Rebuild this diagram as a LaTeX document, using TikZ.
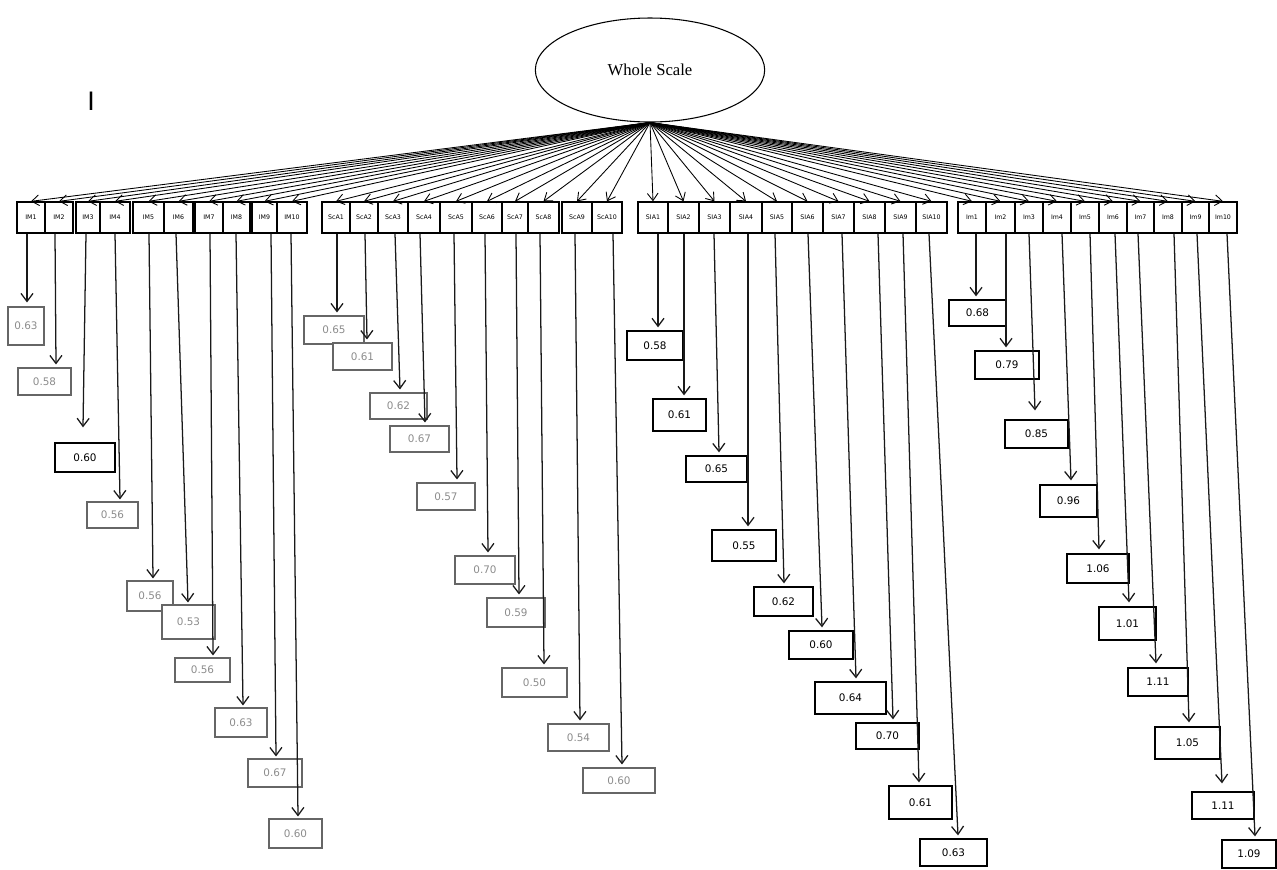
\documentclass[tikz,border=0pt]{standalone}
\usepackage{fontspec}
\setmainfont{Liberation Serif}
\newfontfamily\vfont{DejaVu Sans}
\usetikzlibrary{arrows.meta,calc,shapes.geometric}
\tikzset{
  every picture/.style={x=0.75pt,y=-0.75pt},
  itembox/.style={draw=black,line width=1pt,fill=white,inner sep=0pt,minimum height=23.25pt,
    font=\vfont\fontsize{4.7}{5}\selectfont},
  valfade/.style={draw=black!60,line width=0.8pt,fill=white,inner sep=0pt,text=black!45,
    font=\vfont\fontsize{7.8}{8}\selectfont},
  valdark/.style={draw=black,line width=1pt,fill=white,inner sep=0pt,text=black,
    font=\vfont\fontsize{7.8}{8}\selectfont},
  arr/.style={draw=black!90,line width=0.95pt,-{Straight Barb[length=6pt,width=9pt,line width=0.95pt]}},
  fan/.style={draw=black,line width=0.65pt,-{Straight Barb[length=5.5pt,width=8pt,line width=0.65pt]}},
  latent/.style={ellipse,draw=black,line width=0.8pt,fill=white,inner sep=0pt,
    minimum width=172pt,minimum height=78pt,font=\fontsize{12.5}{14}\selectfont}
}
\begin{document}
\begin{tikzpicture}
\useasboundingbox[fill=white] (0,0) rectangle (1277,869);
\node[latent] (WS) at (650,70) {Whole Scale};
\node[font=\vfont\fontsize{19}{19}\selectfont] (Imark) at (91,101) {I};
\foreach \n/\lab/\L/\R/\s/\tx/\ty/\vl/\vr/\vt/\vb/\v/\st in {
 a1/IM1/17/45/27/27/303/8/44/307/345/0.63/valfade,
 a2/IM2/45/73/55/56/365/18/71/368/395/0.58/valfade,
 a3/IM3/76/100/86/83/428/55/115/443/472/0.60/valdark,
 a4/IM4/100/130/115/120/500/87/138/502/528/0.56/valfade,
 a5/IM5/133/164/149/153/579/127/173/581/611/0.56/valfade,
 a6/IM6/164/193/176/188/603/162/215/605/639/0.53/valfade,
 a7/IM7/195/223/210/213/656/175/230/658/682/0.56/valfade,
 a8/IM8/223/250/236/243/706/215/267/708/737/0.63/valfade,
 a9/IM9/252/277/271/276/757/248/302/759/787/0.67/valfade,
 a10/IM10/277/307/291/298/817/269/322/819/848/0.60/valfade,
 b1/ScA1/322/350/337/337/313/304/364/316/344/0.65/valfade,
 b2/ScA2/350/378/365/367/340/333/392/343/370/0.61/valfade,
 b3/ScA3/378/408/395/400/390/370/427/393/419/0.62/valfade,
 b4/ScA4/408/440/420/425/423/390/449/426/452/0.67/valfade,
 b5/ScA5/440/472/454/457/480/417/475/483/510/0.57/valfade,
 b6/ScA6/472/502/485/488/553/455/515/556/584/0.70/valfade,
 b7/ScA7/502/528/516/519/595/487/545/598/627/0.59/valfade,
 b8/ScA8/528/559/540/544/665/502/567/668/697/0.50/valfade,
 b9/ScA9/562/592/575/580/721/548/609/724/751/0.54/valfade,
 b10/ScA10/592/622/613/622/765/583/655/768/793/0.60/valfade,
 c1/SIA1/638/668/658/658/328/627/683/331/360/0.58/valdark,
 c2/SIA2/668/699/684/684/396/653/706/399/431/0.61/valdark,
 c3/SIA3/699/730/714/719/453/686/747/456/482/0.65/valdark,
 c4/SIA4/730/762/748/748/527/712/776/530/561/0.55/valdark,
 c5/SIA5/762/792/775/784/584/754/813/587/616/0.62/valdark,
 c6/SIA6/792/823/808/822/628/789/853/631/659/0.60/valdark,
 c7/SIA7/823/854/842/856/679/815/886/682/714/0.64/valdark,
 c8/SIA8/854/885/878/893/720/856/919/723/749/0.70/valdark,
 c9/SIA9/885/916/903/919/783/889/952/786/819/0.61/valdark,
 c10/SIA10/916/947/929/958/836/920/987/839/866/0.63/valdark,
 d1/Im1/958/986/976/976/297/949/1006/300/326/0.68/valdark,
 d2/Im2/986/1015/1006/1006/348/975/1039/351/379/0.79/valdark,
 d3/Im3/1015/1043/1029/1035/411/1005/1068/420/448/0.85/valdark,
 d4/Im4/1043/1071/1062/1071/481/1040/1097/485/517/0.96/valdark,
 d5/Im5/1071/1099/1090/1099/550/1067/1129/554/583/1.06/valdark,
 d6/Im6/1099/1127/1115/1129/603/1099/1156/607/640/1.01/valdark,
 d7/Im7/1127/1154/1138/1156/664/1128/1188/668/696/1.11/valdark,
 d8/Im8/1154/1182/1174/1189/723/1155/1220/727/759/1.05/valdark,
 d9/Im9/1182/1209/1197/1222/784/1192/1254/792/819/1.11/valdark,
 d10/Im10/1209/1237/1227/1255/837/1222/1276/840/868/1.09/valdark}{
  \pgfmathsetmacro{\cx}{(\L+\R)/2}
  \pgfmathsetmacro{\w}{(\R-\L)*0.75}
  \pgfmathsetmacro{\vx}{(\vl+\vr)/2}
  \pgfmathsetmacro{\vy}{(\vt+\vb)/2}
  \pgfmathsetmacro{\vw}{(\vr-\vl)*0.75}
  \pgfmathsetmacro{\vh}{(\vb-\vt)*0.75}
  \pgfmathsetmacro{\dx}{\s-\cx}
  \pgfmathsetmacro{\tdx}{\tx-\vx}
  \pgfmathsetmacro{\gap}{\vt-\ty}
  \node[itembox,minimum width=\w pt] (i\n) at (\cx,217.5) {\lab};
  \node[\st,minimum width=\vw pt,minimum height=\vh pt] (v\n) at (\vx,\vy) {\v};
  \draw[fan] (WS.south) -- (i\n.north);
  \draw[arr] ($(i\n.south)+(\dx,0)$) -- ($(v\n.north)+(\tdx,-\gap)$);
}
\end{tikzpicture}
\end{document}
